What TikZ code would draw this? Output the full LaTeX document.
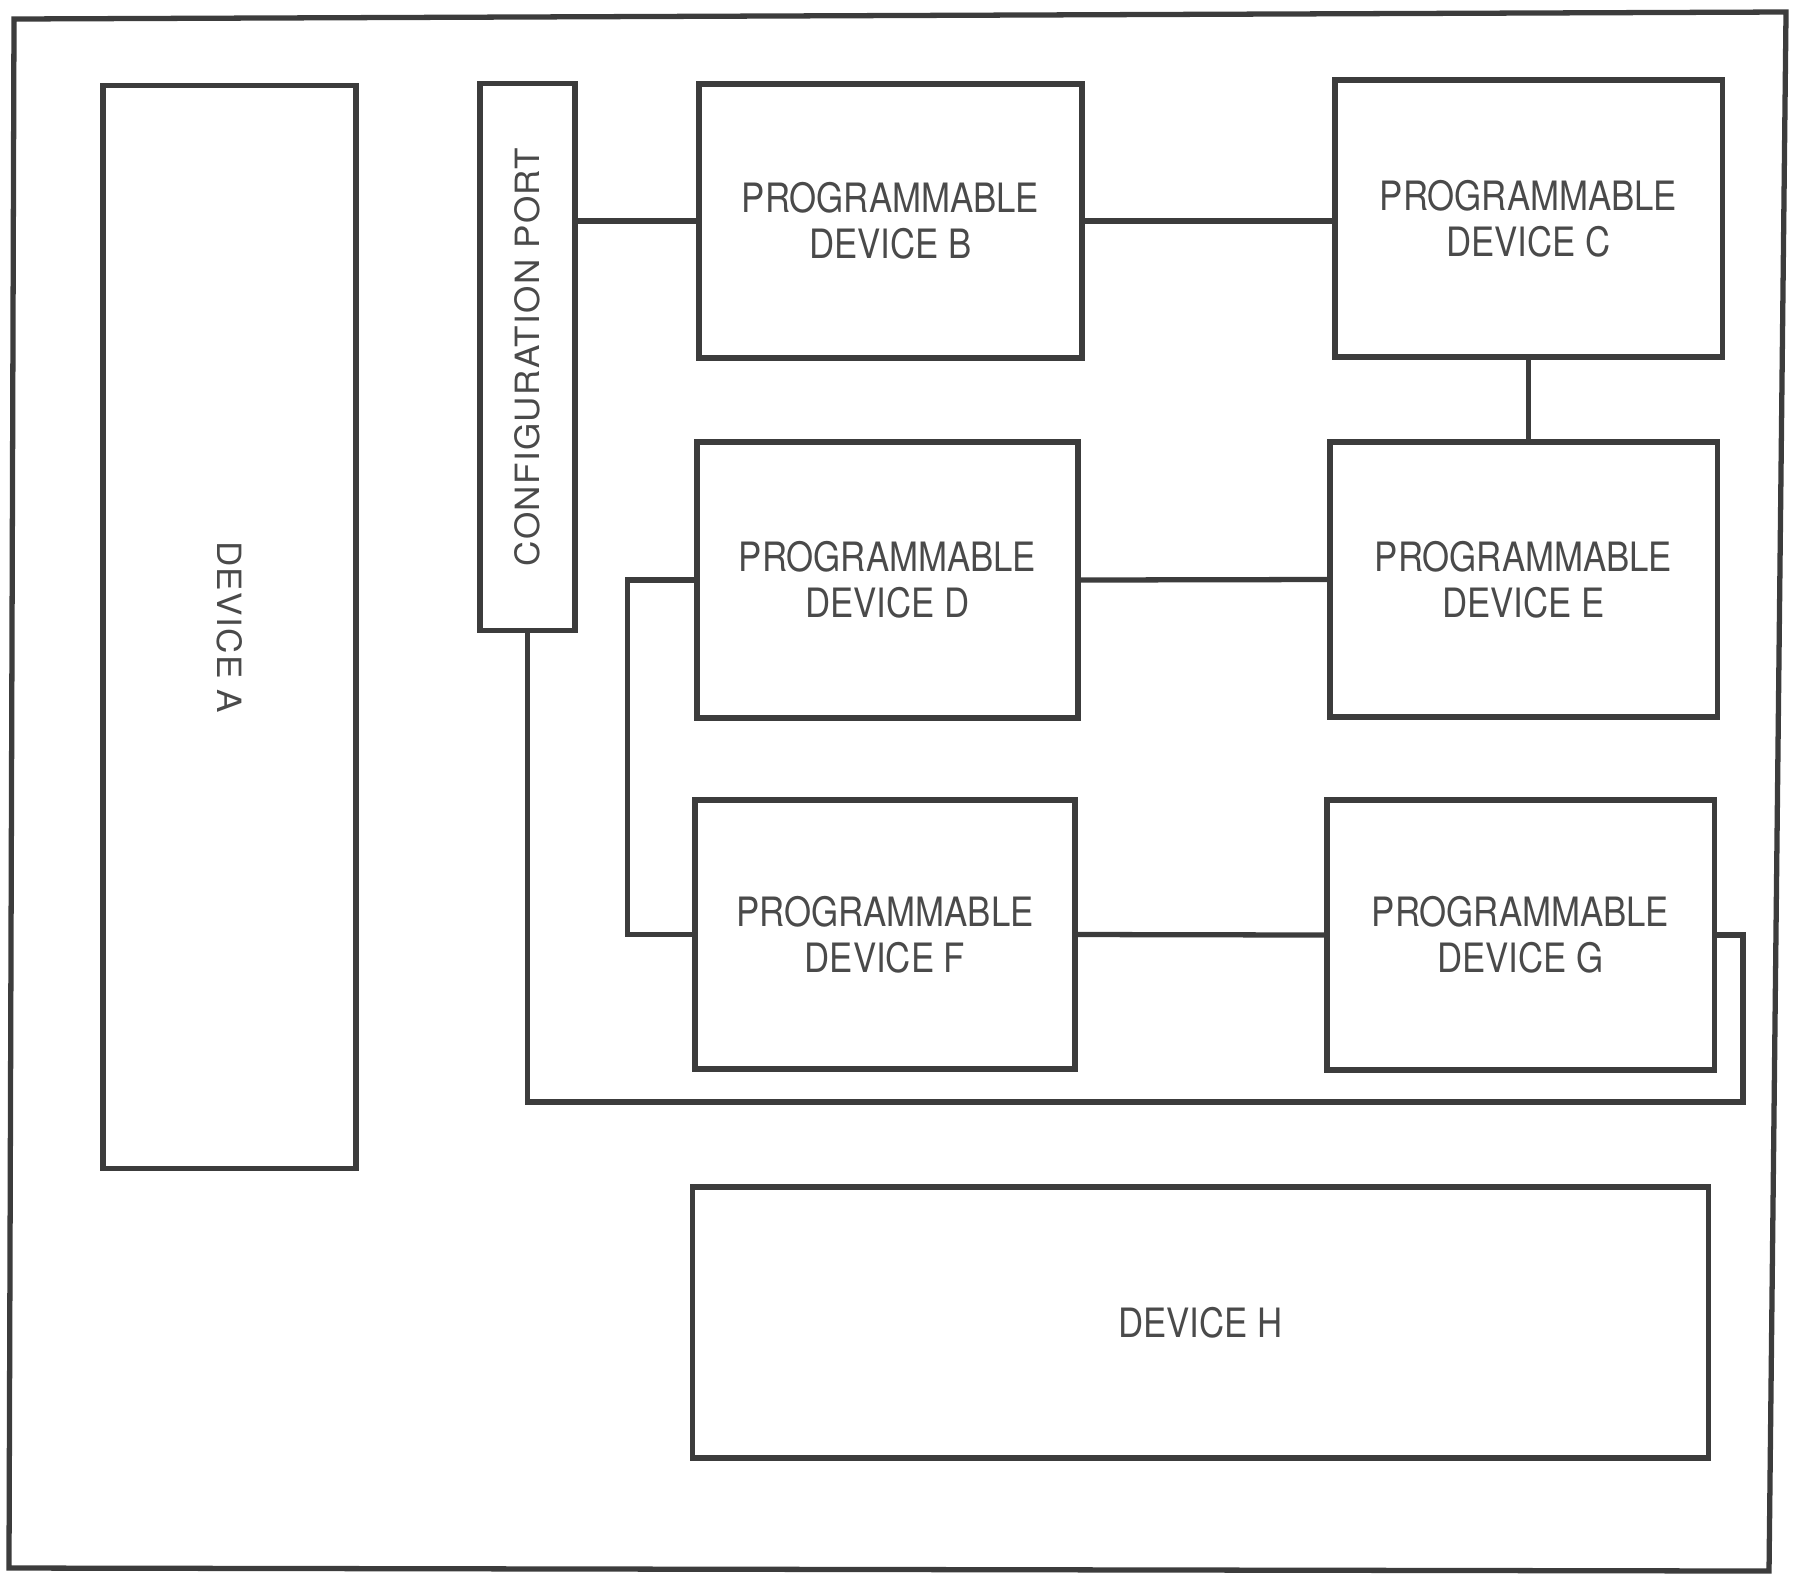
\documentclass[tikz,border=0pt]{standalone}
\usepackage{fontspec}
\usepackage{graphicx}
\setmainfont[FakeStretch=0.86]{TeX Gyre Heros}
\newfontfamily\portfont[FakeStretch=1.05,LetterSpace=4]{TeX Gyre Heros}
\definecolor{boxline}{HTML}{3C3C3C}
\definecolor{boxtext}{HTML}{4A4A4A}
\tikzset{
  devbox/.style={draw=boxline, line width=1.5pt, inner sep=0pt, align=center,
    text=boxtext, font=\fontsize{11.5}{13}\selectfont},
  sidetext/.style={font=\portfont\fontsize{9.5}{11}\selectfont},
  wire/.style={boxline, line width=1.5pt},
}

\begin{document}
\begin{tikzpicture}[x=0.01cm,y=-0.01cm]
  \useasboundingbox (0,0) rectangle (1795,1575);
  \draw[wire] (14,19) -- (1786,12) -- (1769,1571) -- (9,1568) -- cycle;

  \node[devbox, sidetext, minimum width=2.53cm, minimum height=10.82cm] (devA) at (229.5,627) {\rotatebox{-90}{DEVICE A}};
  \node[devbox, sidetext, minimum width=0.95cm, minimum height=5.46cm] (port) at (527.5,357) {\rotatebox{90}{CONFIGURATION PORT}};
  \node[devbox, minimum width=3.83cm, minimum height=2.74cm] (devB) at (890.5,221) {PROGRAMMABLE\\DEVICE B};
  \node[devbox, minimum width=3.87cm, minimum height=2.77cm] (devC) at (1528.5,218.5) {PROGRAMMABLE\\DEVICE C};
  \node[devbox, minimum width=3.81cm, minimum height=2.76cm] (devD) at (887.5,580) {PROGRAMMABLE\\DEVICE D};
  \node[devbox, minimum width=3.87cm, minimum height=2.75cm] (devE) at (1523.5,579.5) {PROGRAMMABLE\\DEVICE E};
  \node[devbox, minimum width=3.80cm, minimum height=2.69cm] (devF) at (885,934.5) {PROGRAMMABLE\\DEVICE F};
  \node[devbox, minimum width=3.87cm, minimum height=2.70cm] (devG) at (1520.5,935) {PROGRAMMABLE\\DEVICE G};
  \node[devbox, minimum width=10.15cm, minimum height=2.71cm] (devH) at (1200.5,1322.5) {DEVICE H};

  \coordinate (loop) at (1743,1102);

  \draw[wire] (devB.west) -- (devB.west -| port.east);
  \draw[wire] (devB.east) -- (devB.east -| devC.west);
  \draw[wire] (devC.south) -- (devC.south |- devE.north);
  \draw[wire] (devD.east) -- (devE.west);
  \draw[wire] (devF.east) -- (devG.west);
  \draw[wire] (devD.west) -- ++(-67,0) |- (devF.west);
  \draw[wire] (port.south) |- (loop) |- (devG.east);
\end{tikzpicture}
\end{document}
